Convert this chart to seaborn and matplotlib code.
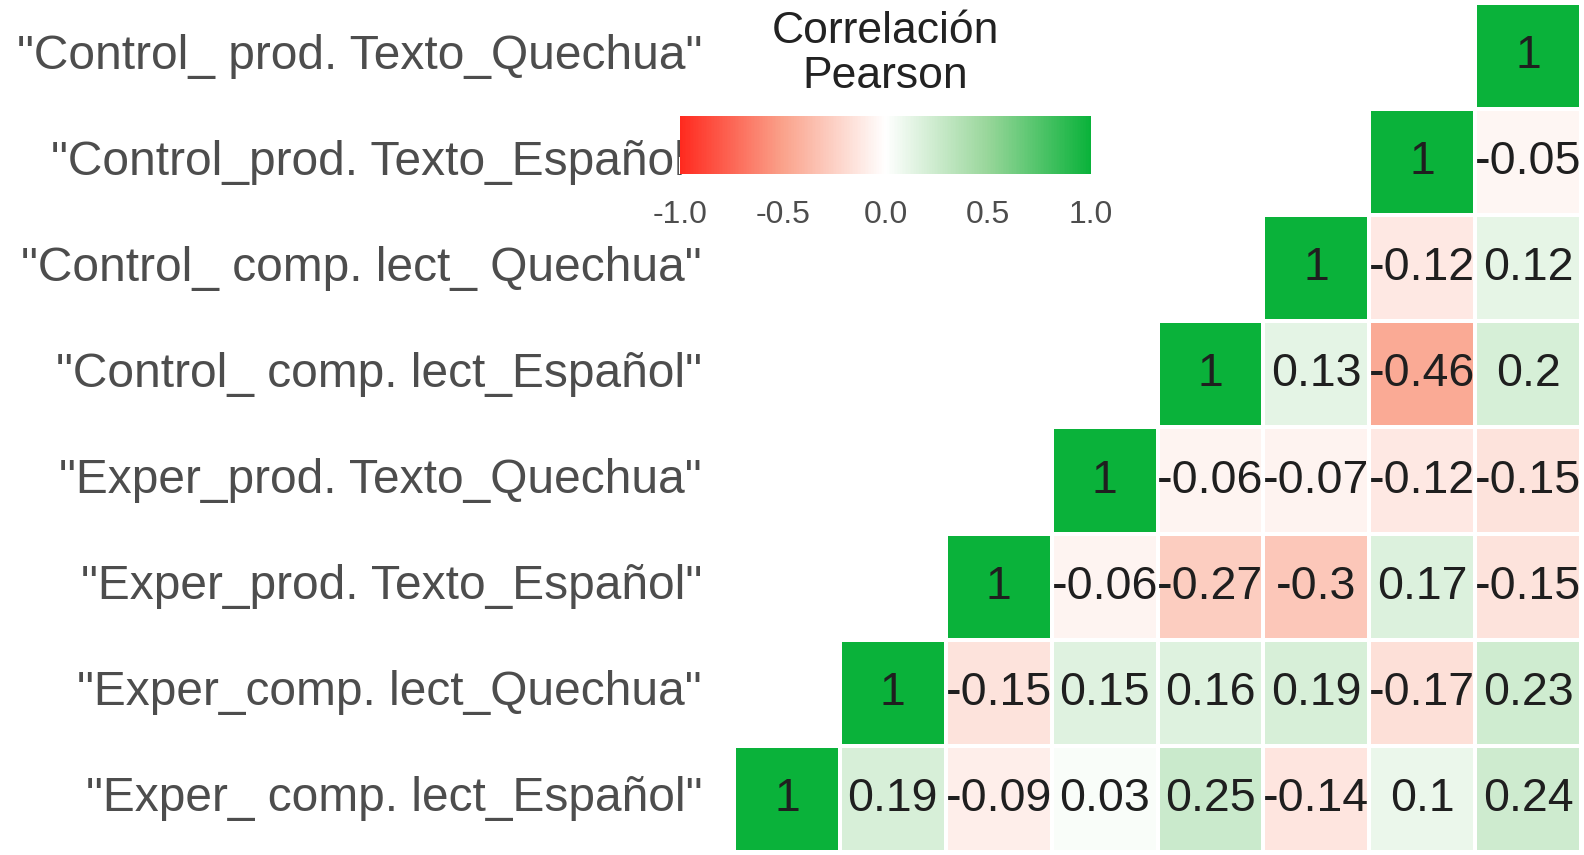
import numpy as np
import pandas as pd
import seaborn as sns
import matplotlib
matplotlib.use("Agg")
import matplotlib.pyplot as plt
from matplotlib.colors import LinearSegmentedColormap

# ---- data ----
variables = ['"Exper_ comp. lect_Español"', '"Exper_comp. lect_Quechua"',
             '"Exper_prod. Texto_Español"', '"Exper_prod. Texto_Quechua"',
             '"Control_ comp. lect_Español"', '"Control_ comp. lect_ Quechua"',
             '"Control_prod. Texto_Español"', '"Control_ prod. Texto_Quechua"']
r_exper_comp_esp = [1, 0.19, -0.09, 0.03, 0.25, -0.14, 0.1, 0.24]
r_exper_comp_que = [1, -0.15, 0.15, 0.16, 0.19, -0.17, 0.23]
r_exper_prod_esp = [1, -0.06, -0.27, -0.3, 0.17, -0.15]
r_exper_prod_que = [1, -0.06, -0.07, -0.12, -0.15]
r_control_comp_esp = [1, 0.13, -0.46, 0.2]
r_control_comp_que = [1, -0.12, 0.12]
r_control_prod_esp = [1, -0.05]
r_control_prod_que = [1]
cbar_ticks = [-1.0, -0.5, 0.0, 0.5, 1.0]
legend_title = "Correlación\nPearson"

rows = [r_exper_comp_esp, r_exper_comp_que, r_exper_prod_esp, r_exper_prod_que,
        r_control_comp_esp, r_control_comp_que, r_control_prod_esp, r_control_prod_que]
n = len(variables)
M = np.zeros((n, n))
for i, vals in enumerate(rows):
    M[i, i:] = vals
    M[i:, i] = vals

# display: top row = last variable
disp = M[::-1, :]
df = pd.DataFrame(disp, index=variables[::-1], columns=variables)
mask = np.zeros((n, n), dtype=bool)
for k in range(n):
    i = n - 1 - k
    mask[k, :i] = True
annot = np.array([[f"{v:g}" for v in row] for row in disp])

# ---- style ----
sns.set_theme(style="white")
plt.rcParams['font.family'] = ['Liberation Sans', 'DejaVu Sans']
plt.rcParams['axes.unicode_minus'] = False

cmap = LinearSegmentedColormap.from_list(
    "rwg", [(0.0, "#FF2A1F"), (0.25, "#FAA28B"), (0.5, "#FFFFFF"),
            (0.75, "#98D69A"), (1.0, "#0AB23A")])

W, H = 1584, 855
fig = plt.figure(figsize=(W / 100, H / 100), dpi=100)
ax = fig.add_axes([734 / W, 3 / H, (1581 - 734) / W, (852 - 3) / H])
cax = fig.add_axes([680 / W, 1 - 174 / H, (1091 - 680) / W, (174 - 116) / H])

sns.heatmap(df, mask=mask, cmap=cmap, vmin=-1, vmax=1, annot=annot, fmt="",
            annot_kws=dict(size=33.5, color="#1f1f1f"),
            linewidths=1.5, linecolor="white",
            xticklabels=False, yticklabels=True, ax=ax, cbar_ax=cax,
            cbar_kws=dict(orientation="horizontal", ticks=cbar_ticks))

ax.tick_params(axis="y", left=False, pad=17, labelsize=34.5, labelcolor="#4D4D4D")
ax.tick_params(axis="x", bottom=False)
for lab in ax.get_yticklabels():
    lab.set_rotation(0)
ax.set_xlabel("")
ax.set_ylabel("")

cb = ax.collections[0].colorbar
cb.outline.set_visible(False)
cax.tick_params(direction="in", color="white", length=12, width=1.5,
                labelsize=23, labelcolor="#4D4D4D", pad=19)
cax.set_xticklabels([f"{t:.1f}" for t in cbar_ticks])

fig.text(885 / W, 1 - 54 / H, legend_title, ha="center", va="center",
         fontsize=32, color="#222222", linespacing=1.15)

fig.savefig("out.png", dpi=100)
